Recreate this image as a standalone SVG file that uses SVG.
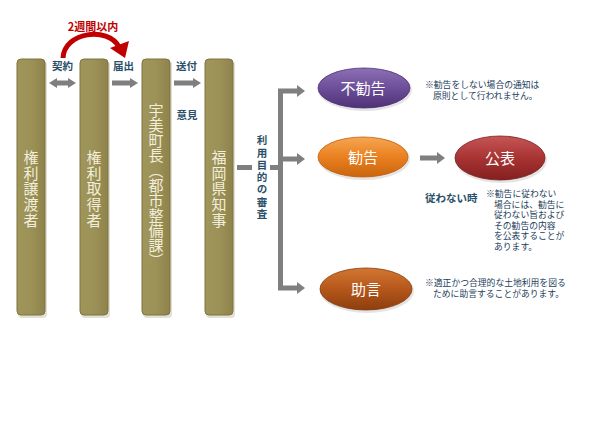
<svg xmlns="http://www.w3.org/2000/svg" width="600" height="422" viewBox="0 0 600 422">
<defs>
<linearGradient id="gCol" x1="0" y1="0" x2="1" y2="0">
<stop offset="0" stop-color="#A09559"/><stop offset="0.5" stop-color="#9C9157"/><stop offset="1" stop-color="#8E834B"/>
</linearGradient>
<linearGradient id="gPur" x1="0" y1="0" x2="0" y2="1">
<stop offset="0" stop-color="#8C70B6"/><stop offset="0.5" stop-color="#6D4E99"/><stop offset="1" stop-color="#4E3276"/>
</linearGradient>
<linearGradient id="gOra" x1="0" y1="0" x2="0" y2="1">
<stop offset="0" stop-color="#F5A653"/><stop offset="0.5" stop-color="#EA801F"/><stop offset="1" stop-color="#C9650E"/>
</linearGradient>
<linearGradient id="gRed" x1="0" y1="0" x2="0" y2="1">
<stop offset="0" stop-color="#C65656"/><stop offset="0.5" stop-color="#A83333"/><stop offset="1" stop-color="#842020"/>
</linearGradient>
<linearGradient id="gBrn" x1="0" y1="0" x2="0" y2="1">
<stop offset="0" stop-color="#D27732"/><stop offset="0.5" stop-color="#B5571B"/><stop offset="1" stop-color="#8D3E0E"/>
</linearGradient>
</defs>
<style>
.col{fill:url(#gCol);stroke:#7E7341;stroke-width:1}
.shadow{fill:#CFCBB8;opacity:0.6}
.vt{font-family:"Noto Sans CJK JP","Noto Sans CJK SC",sans-serif;font-size:15px;fill:#F1EEDB;writing-mode:vertical-rl}
.lbl{font-family:"Noto Sans CJK JP",sans-serif;font-size:10.5px;font-weight:bold;fill:#2A5068}
.note{font-family:"Noto Sans CJK JP",sans-serif;font-size:8.8px;fill:#23405C}
.ell{font-family:"Noto Sans CJK JP",sans-serif;font-size:15px;fill:#FFFFFF;text-anchor:middle}
.ga{fill:#7F7F7F}
.gl{stroke:#7F7F7F;stroke-width:5;fill:none}
.eshadow{fill:#D8D8D8;opacity:0.7}
</style>
<rect width="600" height="422" fill="#FFFFFF"/>

<g id="node-jouto">
<rect class="shadow" x="18" y="61" width="29" height="257" rx="4"/>
<rect class="col" x="17" y="59" width="28" height="256" rx="4"/>
<text class="vt" x="31" y="150" letter-spacing="0.6">権利譲渡者</text>
</g>
<g id="node-shutoku">
<rect class="shadow" x="81" y="61" width="29" height="257" rx="4"/>
<rect class="col" x="80" y="59" width="28" height="256" rx="4"/>
<text class="vt" x="94" y="150" letter-spacing="0.6">権利取得者</text>
</g>
<g id="node-umi">
<rect class="shadow" x="143" y="61" width="29" height="257" rx="4"/>
<rect class="col" x="142" y="59" width="28" height="256" rx="4"/>
<text class="vt" x="156" y="103">宇美町長（都市整備課）</text>
</g>
<g id="node-fukuoka">
<rect class="shadow" x="206" y="61" width="29" height="257" rx="4"/>
<rect class="col" x="205" y="59" width="28" height="256" rx="4"/>
<text class="vt" x="219" y="150" letter-spacing="0.6">福岡県知事</text>
</g>

<g id="node-fukankoku">
<ellipse class="eshadow" cx="365" cy="90" rx="47" ry="21"/>
<ellipse cx="364" cy="88" rx="46" ry="20" fill="url(#gPur)" stroke="#4A3070" stroke-width="0.8"/>
<text class="ell" x="363" y="94">不勧告</text>
</g>
<g id="node-kankoku">
<ellipse class="eshadow" cx="364" cy="159" rx="46" ry="21"/>
<ellipse cx="363" cy="157" rx="45" ry="20" fill="url(#gOra)" stroke="#C05E0C" stroke-width="0.8"/>
<text class="ell" x="363" y="163">勧告</text>
</g>
<g id="node-kouhyou">
<ellipse class="eshadow" cx="501" cy="160" rx="46" ry="23"/>
<ellipse cx="500" cy="158" rx="45" ry="22" fill="url(#gRed)" stroke="#7A1C1C" stroke-width="0.8"/>
<text class="ell" x="500" y="164">公表</text>
</g>
<g id="node-jogen">
<ellipse class="eshadow" cx="367" cy="291" rx="47" ry="22"/>
<ellipse cx="366" cy="289" rx="46" ry="21" fill="url(#gBrn)" stroke="#843A0D" stroke-width="0.8"/>
<text class="ell" x="366" y="295">助言</text>
</g>

<g id="connectors">
<polygon class="ga" points="49,83 57,78 57,80.5 68,80.5 68,78 76,83 68,88 68,85.5 57,85.5 57,88"/>
<polygon class="ga" points="112,80.5 130,80.5 130,78 138,83 130,88 130,85.5 112,85.5"/>
<polygon class="ga" points="174,80.5 193,80.5 193,78 201,83 193,88 193,85.5 174,85.5"/>
<path d="M63,58 C64,32 108,26 119,47" stroke="#C00000" stroke-width="5" fill="none"/>
<polygon points="110,48 129,41 125,58" fill="#C00000"/>
<line class="gl" x1="237" y1="167.5" x2="252" y2="167.5"/>
<line class="gl" x1="270" y1="167.5" x2="281" y2="167.5"/>
<polyline class="gl" points="298,91 280.5,91 280.5,288 298,288"/>
<line class="gl" x1="280.5" y1="159" x2="298" y2="159"/>
<polygon class="ga" points="297,85 305,91 297,97"/>
<polygon class="ga" points="297,153 305,159 297,165"/>
<polygon class="ga" points="297,282 305,288 297,294"/>
<polygon class="ga" points="420,155.5 437,155.5 437,152 445,158 437,164 437,160.5 420,160.5"/>
</g>

<g id="labels">
<text class="lbl" x="62.5" y="70" text-anchor="middle">契約</text>
<text class="lbl" x="123.5" y="70" text-anchor="middle">届出</text>
<text class="lbl" x="186.5" y="70" text-anchor="middle">送付</text>
<text class="lbl" x="187" y="119" text-anchor="middle" font-size="10">意見</text>
<text x="93" y="31" text-anchor="middle" font-family="Noto Sans CJK JP, sans-serif" font-size="11" font-weight="bold" fill="#C00000">2週間以内</text>
<text class="lbl" x="262" y="135" style="writing-mode:vertical-rl" letter-spacing="1.8">利用目的の審査</text>
<text class="lbl" x="425" y="202" font-size="10.5">従わない時</text>
<text class="note" x="425" y="88">※勧告をしない場合の通知は</text>
<text class="note" x="433" y="99">原則として行われません。</text>
<text class="note" x="486" y="197">※勧告に従わない</text>
<text class="note" x="494" y="207.5">場合には、勧告に</text>
<text class="note" x="494" y="218">従わない旨および</text>
<text class="note" x="494" y="228.5">その勧告の内容</text>
<text class="note" x="494" y="239">を公表することが</text>
<text class="note" x="494" y="249.5">あります。</text>
<text class="note" x="425" y="286">※適正かつ合理的な土地利用を図る</text>
<text class="note" x="433" y="297">ために助言することがあります。</text>
</g>
</svg>
